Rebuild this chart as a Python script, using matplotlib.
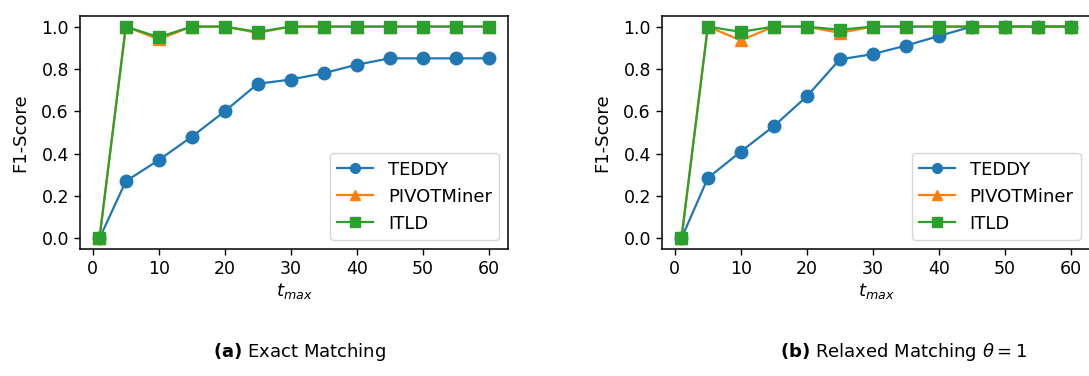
import matplotlib
matplotlib.use("Agg")
import matplotlib.pyplot as plt

t_max = [1, 5, 10, 15, 20, 25, 30, 35, 40, 45, 50, 55, 60]

teddy_exact = [0.0, 0.27, 0.37, 0.48, 0.60, 0.73, 0.75, 0.78, 0.82, 0.85, 0.85, 0.85, 0.85]
pivot_exact = [0.0, 1.0, 0.94, 1.0, 1.0, 0.97, 1.0, 1.0, 1.0, 1.0, 1.0, 1.0, 1.0]
itld_exact = [0.0, 1.0, 0.95, 1.0, 1.0, 0.975, 1.0, 1.0, 1.0, 1.0, 1.0, 1.0, 1.0]

teddy_relaxed = [0.0, 0.285, 0.41, 0.53, 0.67, 0.845, 0.87, 0.91, 0.955, 1.0, 1.0, 1.0, 1.0]
pivot_relaxed = [0.0, 1.0, 0.935, 1.0, 1.0, 0.97, 1.0, 1.0, 1.0, 1.0, 1.0, 1.0, 1.0]
itld_relaxed = [0.0, 1.0, 0.975, 1.0, 1.0, 0.985, 1.0, 1.0, 1.0, 1.0, 1.0, 1.0, 1.0]

series_names = ["TEDDY", "PIVOTMiner", "ITLD"]
captions = [r"$\mathbf{(a)}$ Exact Matching", r"$\mathbf{(b)}$ Relaxed Matching $\theta = 1$"]

fig = plt.figure(figsize=(10.89, 3.76), dpi=100)
ax1 = fig.add_axes([80/1089, 1 - 249/376, 428/1089, 233/376])
ax2 = fig.add_axes([662/1089, 1 - 249/376, 428/1089, 233/376])

styles = [dict(marker="o", color="#1f77b4"),
          dict(marker="^", color="#ff7f0e"),
          dict(marker="s", color="#2ca02c")]

for ax, data in [(ax1, (teddy_exact, pivot_exact, itld_exact)),
                 (ax2, (teddy_relaxed, pivot_relaxed, itld_relaxed))]:
    for name, ys, st in zip(series_names, data, styles):
        ax.plot(t_max, ys, label=name, linewidth=1.6, markersize=9, **st)
    ax.set_xticks([0, 10, 20, 30, 40, 50, 60])
    ax.set_yticks([0.0, 0.2, 0.4, 0.6, 0.8, 1.0])
    ax.tick_params(labelsize=12.5, width=1.0, length=4.5)
    for sp in ax.spines.values():
        sp.set_linewidth(1.1)
    ax.set_ylabel("F1-Score", fontsize=13, labelpad=9)
    ax.set_xlabel(r"$t_{max}$", fontsize=13, labelpad=2)
    ax.legend(loc="lower right", fontsize=13, handlelength=2.0, markerscale=0.78,
              borderaxespad=0.5)

fig.text(300/1089, 1 - 352/376, captions[0], ha="center", va="center", fontsize=13)
fig.text(903/1089, 1 - 352/376, captions[1], ha="center", va="center", fontsize=13)

fig.savefig("out.png", dpi=100)
